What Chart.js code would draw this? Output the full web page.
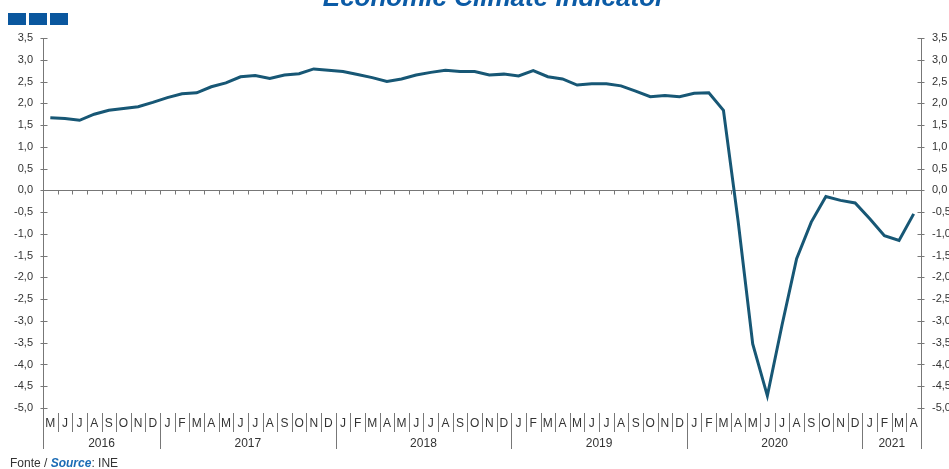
<!DOCTYPE html>
<html>
<head>
<meta charset="utf-8">
<title>Economic Climate Indicator</title>
<script src="https://cdn.jsdelivr.net/npm/chart.js@4.4.1/dist/chart.umd.min.js"></script>
<style>
    body { margin: 0; overflow: hidden; background: #fff; font-family: "Liberation Sans", Arial, sans-serif; }
    #wrap { position: relative; width: 949px; height: 469px; }
    #grafico { position: absolute; left: 0; top: 0; }
    .titulo { position: absolute; left: 0; width: 988px; top: -16px; text-align: center; font-size: 26px; line-height: 26px;
              font-weight: bold; font-style: italic; color: #0b5ba6; white-space: nowrap; }
    .cuadro { position: absolute; top: 13px; width: 18px; height: 12px; background: #0a579e; }
    .fuente { position: absolute; left: 10px; top: 457px; font-size: 12px; line-height: 12px; color: #333; white-space: nowrap; }
    .fuente b { color: #1a6bb5; font-style: italic; }
</style>
</head>
<body>
<div id="wrap">
    <canvas id="grafico" width="949" height="469"></canvas>
    <div class="titulo">Economic Climate Indicator</div>
    <div class="cuadro" style="left:8px"></div>
    <div class="cuadro" style="left:29px"></div>
    <div class="cuadro" style="left:50px"></div>
    <div class="fuente">Fonte / <b>Source</b>: INE</div>
</div>
<script>
// meses de mayo 2016 a abril 2021
const meses = [
    'M', 'J', 'J', 'A', 'S', 'O', 'N', 'D',
    'J', 'F', 'M', 'A', 'M', 'J', 'J', 'A', 'S', 'O', 'N', 'D',
    'J', 'F', 'M', 'A', 'M', 'J', 'J', 'A', 'S', 'O', 'N', 'D',
    'J', 'F', 'M', 'A', 'M', 'J', 'J', 'A', 'S', 'O', 'N', 'D',
    'J', 'F', 'M', 'A', 'M', 'J', 'J', 'A', 'S', 'O', 'N', 'D',
    'J', 'F', 'M', 'A'
];
const anos = ['2016', '2017', '2018', '2019', '2020', '2021'];
const mesesPorAno = [8, 12, 12, 12, 12, 4];

const indicador = [
    1.67, 1.65, 1.61, 1.75, 1.84, 1.88, 1.92, 2.02,
    2.13, 2.22, 2.24, 2.38, 2.47, 2.61, 2.64, 2.57, 2.65, 2.68, 2.79, 2.76,
    2.73, 2.66, 2.59, 2.50, 2.56, 2.65, 2.71, 2.76, 2.73, 2.73, 2.65, 2.67,
    2.63, 2.75, 2.61, 2.56, 2.42, 2.45, 2.45, 2.40, 2.28, 2.15, 2.18, 2.15,
    2.23, 2.24, 1.84, -0.70, -3.53, -4.72, -3.10, -1.57, -0.73, -0.14, -0.23, -0.29,
    -0.65, -1.04, -1.15, -0.54
];

const yMin = -5;
const yMax = 3.5;
const yPaso = 0.5;

const colorEje = '#777';
const colorTexto = '#333';
const fuente = '"Liberation Sans", Arial, sans-serif';

function formatoComa(v) {
    return v.toFixed(1).replace('.', ',');
}

function linea(ctx, x1, y1, x2, y2) {
    ctx.beginPath();
    ctx.moveTo(x1, y1);
    ctx.lineTo(x2, y2);
    ctx.stroke();
}

// ejes, marcas, separadores de meses y etiquetas de los años
const ejes = {
    id: 'ejes',
    beforeDatasetsDraw(chart) {
        const ctx = chart.ctx;
        const area = chart.chartArea;
        const xs = chart.scales.x;
        const ys = chart.scales.y;
        const finEje = 449;

        ctx.save();
        ctx.strokeStyle = colorEje;
        ctx.lineWidth = 1;

        const izq = Math.round(area.left) + 0.5;
        const der = Math.round(area.right) + 0.5;
        linea(ctx, izq, area.top, izq, finEje);
        linea(ctx, der, area.top, der, finEje);

        ys.ticks.forEach(t => {
            const py = Math.round(ys.getPixelForValue(t.value)) + 0.5;
            linea(ctx, izq - 3, py, izq + 4, py);
            linea(ctx, der - 4, py, der + 3, py);
        });

        const y0 = Math.round(ys.getPixelForValue(0)) + 0.5;
        linea(ctx, area.left, y0, area.right, y0);

        // limites entre meses
        const n = meses.length;
        const ancho = (xs.getPixelForValue(1) - xs.getPixelForValue(0));
        const finesAno = [];
        let acum = 0;
        mesesPorAno.forEach(m => { acum += m; finesAno.push(acum); });

        for (let k = 1; k < n; k++) {
            const px = Math.round(xs.getPixelForValue(k) - ancho / 2) + 0.5;
            linea(ctx, px, y0, px, y0 + 4);
            const esAno = finesAno.includes(k);
            linea(ctx, px, 413, px, esAno ? finEje : 432);
        }

        ctx.fillStyle = colorTexto;
        ctx.font = '12px ' + fuente;
        ctx.textAlign = 'center';
        ctx.textBaseline = 'middle';
        let inicio = 0;
        anos.forEach((a, i) => {
            const fin = inicio + mesesPorAno[i] - 1;
            const cx = (xs.getPixelForValue(inicio) + xs.getPixelForValue(fin)) / 2;
            ctx.fillText(a, cx, 444);
            inicio += mesesPorAno[i];
        });
        ctx.restore();
    }
};

const ctx = document.getElementById('grafico').getContext('2d');

new Chart(ctx, {
    type: 'line',
    data: {
        labels: meses,
        datasets: [{
            label: 'Economic Climate Indicator',
            data: indicador,
            borderColor: '#175775',
            borderWidth: 3,
            pointRadius: 0,
            tension: 0,
            fill: false,
            yAxisID: 'y'
        }]
    },
    options: {
        responsive: false,
        animation: false,
        layout: { padding: { top: 38 } },
        plugins: {
            legend: { display: false },
            tooltip: { enabled: false }
        },
        scales: {
            x: {
                type: 'category',
                offset: true,
                grid: { display: false, drawTicks: false },
                border: { display: false },
                ticks: {
                    autoSkip: false,
                    maxRotation: 0,
                    minRotation: 0,
                    padding: 8,
                    color: colorTexto,
                    font: { family: fuente, size: 12 }
                },
                afterFit(scale) { scale.height = 61; }
            },
            y: {
                position: 'left',
                min: yMin,
                max: yMax,
                grid: { display: false, drawTicks: false },
                border: { display: false },
                ticks: {
                    stepSize: yPaso,
                    padding: 10,
                    color: colorTexto,
                    font: { family: fuente, size: 11 },
                    callback: v => formatoComa(v)
                },
                afterFit(scale) { scale.width = 43; }
            },
            y2: {
                position: 'right',
                min: yMin,
                max: yMax,
                grid: { display: false, drawTicks: false },
                border: { display: false },
                ticks: {
                    stepSize: yPaso,
                    padding: 11,
                    color: colorTexto,
                    font: { family: fuente, size: 11 },
                    callback: v => formatoComa(v)
                },
                afterFit(scale) { scale.width = 28; }
            }
        }
    },
    plugins: [ejes]
});
</script>
</body>
</html>
